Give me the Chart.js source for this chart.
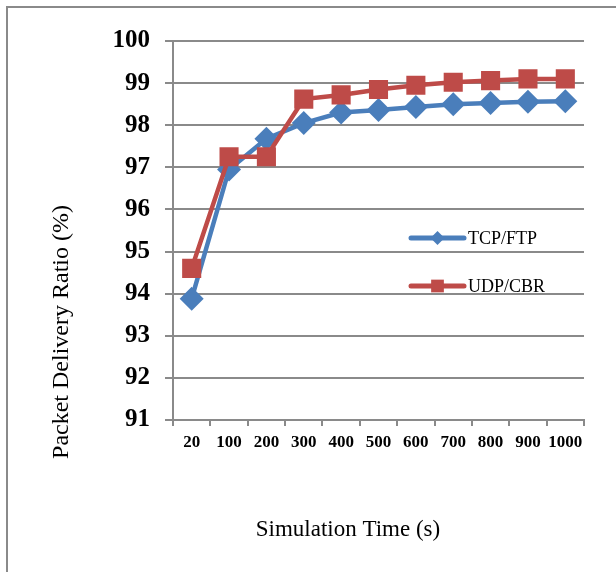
<!DOCTYPE html>
<html>
<head>
<meta charset="utf-8">
<script src="https://cdn.jsdelivr.net/npm/chart.js@4/dist/chart.umd.min.js"></script>
<style>
  body { margin: 0; background: #fff; }
  #wrap { position: relative; width: 616px; height: 572px; }
  #frame { position: absolute; left: 6px; top: 6px; right: -10px; bottom: -10px;
           border-left: 2px solid #8a8a8a; border-top: 2px solid #8a8a8a; pointer-events: none; }
</style>
</head>
<body>
<div id="wrap">
  <canvas id="canvas" width="616" height="572"></canvas>
  <div id="frame"></div>
</div>
<script>
// simulation time categories (s)
const times = ['20', '100', '200', '300', '400', '500', '600', '700', '800', '900', '1000'];
// packet delivery ratio (%)
const tcpFtp = [93.88, 96.95, 97.68, 98.05, 98.30, 98.36, 98.43, 98.50, 98.53, 98.56, 98.57];
const udpCbr = [94.60, 97.25, 97.25, 98.62, 98.72, 98.85, 98.95, 99.02, 99.06, 99.10, 99.10];
const yMin = 91, yMax = 100;

const serif = '"Liberation Serif", "Times New Roman", serif';
const blue = '#4a7ebb';
const red = '#be4b48';
const gridGray = '#8a8a8a';

// titles and in-plot legend drawn by hand
const decor = {
  id: 'decor',
  afterDraw(chart) {
    const ctx = chart.ctx;
    ctx.save();
    ctx.fillStyle = '#000';
    ctx.font = '23px ' + serif;
    ctx.textAlign = 'center';
    ctx.textBaseline = 'middle';
    ctx.fillText('Simulation Time (s)', 348, 530);
    ctx.font = '24px ' + serif;
    ctx.translate(62, 332);
    ctx.rotate(-Math.PI / 2);
    ctx.fillText('Packet Delivery Ratio (%)', 0, 0);
    ctx.restore();

    const items = [
      { text: 'TCP/FTP', color: blue, style: 'rectRot', r: 7, y: 238 },
      { text: 'UDP/CBR', color: red, style: 'rect', r: 9, y: 286 }
    ];
    items.forEach(it => {
      ctx.save();
      ctx.strokeStyle = it.color;
      ctx.lineWidth = 5;
      ctx.lineCap = 'round';
      ctx.beginPath();
      ctx.moveTo(411, it.y);
      ctx.lineTo(464, it.y);
      ctx.stroke();
      ctx.fillStyle = it.color;
      Chart.helpers.drawPoint(ctx, { pointStyle: it.style, radius: it.r, borderWidth: 0 }, 437.5, it.y);
      ctx.fillStyle = '#000';
      ctx.font = '18px ' + serif;
      ctx.textAlign = 'left';
      ctx.textBaseline = 'middle';
      ctx.fillText(it.text, 468, it.y + 1);
      ctx.restore();
    });
  }
};

new Chart(document.getElementById('canvas'), {
  type: 'line',
  data: {
    labels: times,
    datasets: [
      {
        label: 'TCP/FTP',
        data: tcpFtp,
        borderColor: blue,
        backgroundColor: blue,
        borderWidth: 4.5,
        pointStyle: 'rectRot',
        pointRadius: 12,
        pointBorderWidth: 0,
        order: 1
      },
      {
        label: 'UDP/CBR',
        data: udpCbr,
        borderColor: red,
        backgroundColor: red,
        borderWidth: 4.5,
        pointStyle: 'rect',
        pointRadius: 13.5,
        pointBorderWidth: 0,
        order: 0
      }
    ]
  },
  options: {
    responsive: false,
    animation: false,
    devicePixelRatio: 1,
    layout: { padding: { top: 41, right: 32, left: 0, bottom: 0 } },
    plugins: { legend: { display: false }, tooltip: { enabled: false } },
    scales: {
      x: {
        offset: true,
        grid: { offset: true, drawOnChartArea: false, color: gridGray, lineWidth: 2, tickLength: 6 },
        border: { color: gridGray, width: 2 },
        ticks: { color: '#000', font: { family: serif, size: 17, weight: 'bold' }, padding: 6, maxRotation: 0, autoSkip: false },
        afterFit(scale) { scale.height = 152; }
      },
      y: {
        min: yMin,
        max: yMax,
        grid: { color: gridGray, lineWidth: 2, tickLength: 8 },
        border: { color: gridGray, width: 2 },
        ticks: { stepSize: 1, color: '#000', font: { family: serif, size: 25, weight: 'bold' }, padding: 15 },
        afterFit(scale) { scale.width = 173; }
      }
    }
  },
  plugins: [decor]
});
</script>
</body>
</html>
